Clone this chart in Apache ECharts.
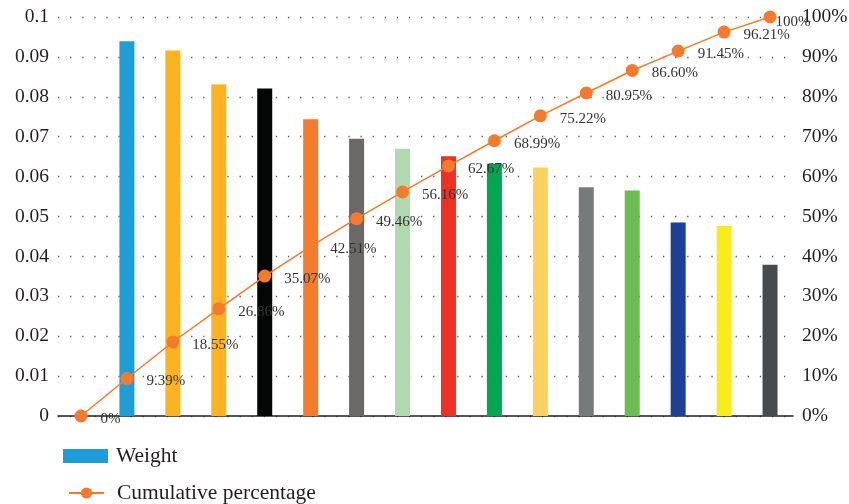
<!DOCTYPE html>
<html>
<head>
<meta charset="utf-8">
<script src="https://cdn.jsdelivr.net/npm/echarts@6/dist/echarts.min.js"></script>
<style>
  html, body { margin: 0; padding: 0; background: #fff; }
  #chart { width: 849px; height: 504px; }
</style>
</head>
<body>
<div id="chart"></div>
<script>
// Category slots along the x axis (slot 0 is the origin of the cumulative curve)
const categories = ['0', '1', '2', '3', '4', '5', '6', '7', '8', '9', '10', '11', '12', '13', '14', '15'];

// Weight of each factor (slot 0 has no bar)
const weights = ['-', 0.0939, 0.0916, 0.0831, 0.0821, 0.0744, 0.0695, 0.0670, 0.0651, 0.0632, 0.0623, 0.0573, 0.0565, 0.0485, 0.0476, 0.0379];

// Cumulative percentage after each factor
const cumulative = [0, 9.39, 18.55, 26.86, 35.07, 42.51, 49.46, 56.16, 62.67, 68.99, 75.22, 80.95, 86.60, 91.45, 96.21, 100];

// Bar fill colours, one per slot
const barColors = ['#1E9ED9', '#1E9ED9', '#FBB41F', '#FBB41F', '#040605', '#F47B2D', '#6D6868', '#B0D9B1',
                   '#EE3124', '#00A651', '#FCD15C', '#777A7A', '#6ABD4E', '#1E3F96', '#F8EC1A', '#474B4E'];

// Axis ranges
const weightAxis = { min: 0, max: 0.1, step: 0.01 };
const percentAxis = { min: 0, max: 100, step: 10 };

const FONT = '"Liberation Serif", "DejaVu Serif", serif';
const INK = '#231F20';
const LINE = '#F47B2D';

const chart = echarts.init(document.getElementById('chart'), null, { renderer: 'canvas' });

const barData = weights.map((v, i) => ({ value: v, itemStyle: { color: barColors[i] } }));
const lineData = cumulative.map((v, i) => {
  const d = { value: v };
  if (i === cumulative.length - 1) {
    d.label = { position: 'inside', offset: [23, 5] };
  }
  return d;
});

chart.setOption({
  animation: false,
  backgroundColor: '#fff',
  grid: { left: 58, right: 56, top: 17, bottom: 88, containLabel: false, outerBoundsMode: 'none' },
  legend: [
    {
      data: ['Weight'],
      left: 58, top: 440,
      itemWidth: 45, itemHeight: 14,
      icon: 'rect',
      textStyle: { fontFamily: FONT, fontSize: 21.5, color: INK, padding: [0, 0, 0, 3] }
    },
    {
      data: ['Cumulative percentage'],
      left: 63, top: 477,
      itemWidth: 35, itemHeight: 14,
      textStyle: { fontFamily: FONT, fontSize: 21.5, color: INK, padding: [0, 0, 0, 8] }
    }
  ],
  xAxis: {
    type: 'category',
    data: categories,
    boundaryGap: true,
    axisLine: { lineStyle: { color: INK, width: 1.5 } },
    axisTick: { show: false },
    axisLabel: { show: false },
    splitLine: { show: false }
  },
  yAxis: [
    {
      type: 'value',
      min: weightAxis.min, max: weightAxis.max, interval: weightAxis.step,
      axisLine: { show: false },
      axisTick: { show: false },
      axisLabel: {
        fontFamily: FONT, fontSize: 19.5, color: INK, margin: 9,
        formatter: v => String(parseFloat(v.toFixed(2)))
      },
      splitLine: { lineStyle: { color: '#58595B', width: 1.3, type: [1.3, 10.8] } }
    },
    {
      type: 'value',
      min: percentAxis.min, max: percentAxis.max, interval: percentAxis.step,
      position: 'right',
      axisLine: { show: false },
      axisTick: { show: false },
      axisLabel: {
        fontFamily: FONT, fontSize: 19.5, color: INK, margin: 9,
        formatter: v => Math.round(v) + '%'
      },
      splitLine: { show: false }
    }
  ],
  series: [
    {
      name: 'Weight',
      type: 'bar',
      yAxisIndex: 0,
      barWidth: 15,
      itemStyle: { color: '#1E9ED9' },
      data: barData,
      z: 2
    },
    {
      name: 'Cumulative percentage',
      type: 'line',
      yAxisIndex: 1,
      data: lineData,
      symbol: 'circle',
      symbolSize: 13,
      itemStyle: { color: LINE },
      lineStyle: { color: LINE, width: 1.5 },
      z: 3,
      label: {
        show: true,
        position: 'right',
        distance: 13,
        offset: [0, 3],
        fontFamily: FONT, fontSize: 15, color: '#333333',
        formatter: p => {
          const v = p.value;
          return (v === 0 || v === 100) ? v + '%' : v.toFixed(2) + '%';
        }
      }
    }
  ]
});
</script>
</body>
</html>
